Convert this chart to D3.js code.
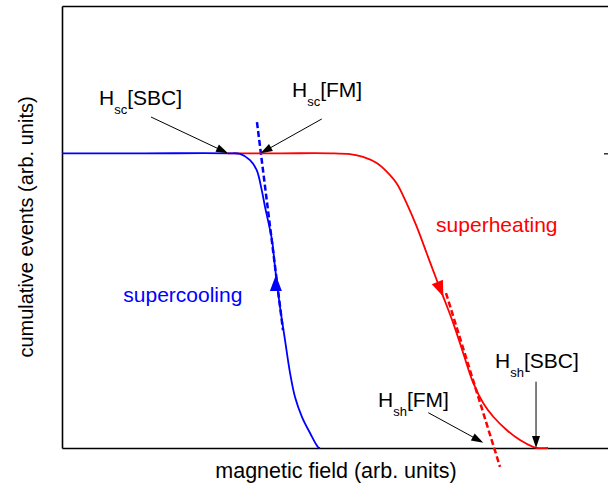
<!DOCTYPE html>
<html><head><meta charset="utf-8">
<script src="https://cdn.jsdelivr.net/npm/d3@7"></script>
<style>
html,body{margin:0;padding:0;background:#fff;}
text{font-family:Arial,"Liberation Sans",Helvetica,sans-serif;}
</style></head>
<body><svg id="chart" width="608" height="485"></svg>
<script>
// supercooling curve (field, cumulative events)
const coolX = [0, 15, 30.29, 32.48, 34.31, 35.53, 36.44, 37.04, 38.32, 38.87, 39.78, 40.69, 41.61, 42.52, 43.80, 45.26, 46.72, 47.08];
const coolY = [1.0, 1.0, 1.0, 0.998, 0.977, 0.943, 0.876, 0.819, 0.706, 0.614, 0.479, 0.367, 0.255, 0.173, 0.105, 0.051, 0.003, 0];
// superheating curve
const heatX = [30.29, 40, 48.91, 52.55, 54.93, 57.43, 59.25, 61.08, 62.90, 64.73, 66.55, 68.38, 69.58, 71.41, 73.23, 75.06, 76.88, 78.71, 81.15, 83.58, 85.95, 86.68, 88.69];
const heatY = [1.0, 1.0, 1.0, 0.997, 0.988, 0.967, 0.938, 0.898, 0.830, 0.751, 0.661, 0.570, 0.513, 0.423, 0.321, 0.220, 0.152, 0.106, 0.061, 0.027, 0.004, 0, 0];
// tangent (FM) lines
const coolTanX = [35.58, 40.33];
const coolTanY = [1.106, 0.400];
const heatTanX = [70.07, 79.93];
const heatTanY = [0.526, -0.064];
// direction arrows on curves: tip and base (data units)
const dirArrows = [
  {tip:[39.03, 0.587], base:[39.03, 0.535], color:"#0000ff"},
  {tip:[69.59, 0.513], base:[68.48, 0.564], color:"#ff0000"}
];
// annotation arrows [fromX, fromY, toX, toY]
const annArrows = [
  [16.24, 1.1233, 30.3, 1.0],
  [47.40, 1.1166, 36.22, 1.0],
  [66.84, 0.1198, 76.88, 0.018],
  [86.5, 0.225, 86.5, 0.0]
];
// labels
const hLabels = [
  {main:"H", sub:"sc", rest:"[SBC]", x:6.75, y:1.164},
  {main:"H", sub:"sc", rest:"[FM]", x:41.97, y:1.191},
  {main:"H", sub:"sh", rest:"[SBC]", x:79.01, y:0.2715},
  {main:"H", sub:"sh", rest:"[FM]", x:57.66, y:0.140}
];
const curveLabels = [
  {text:"supercooling", x:11.19, y:0.4965, color:"#0000ff"},
  {text:"superheating", x:68.27, y:0.734, color:"#ff0000"}
];
const xTitle = "magnetic field (arb. units)";
const yTitle = "cumulative events (arb. units)";

const svg = d3.select("#chart");
const x = d3.scaleLinear().domain([0, 100]).range([62, 610]);
const y = d3.scaleLinear().domain([0, 1.5]).range([448, 6]);

// axes (frame)
svg.append("g").attr("transform","translate(0,448)")
  .call(d3.axisBottom(x).tickValues([]).tickSizeOuter(0))
  .select(".domain").attr("stroke","#000").attr("stroke-width",1.6);
svg.append("g").attr("transform","translate(62,0)")
  .call(d3.axisLeft(y).tickValues([]).tickSizeOuter(0))
  .select(".domain").attr("stroke","#000").attr("stroke-width",1.6);
svg.append("g").attr("transform","translate(0,6)")
  .call(d3.axisTop(x).tickValues([]).tickSizeOuter(0))
  .select(".domain").attr("stroke","#000").attr("stroke-width",1.6);
const rAx = svg.append("g").attr("transform","translate(610,0)")
  .call(d3.axisLeft(y).tickValues([1]).tickSize(6).tickSizeOuter(0).tickFormat(""));
rAx.selectAll("line").attr("stroke","#000").attr("stroke-width",1.2);
rAx.select(".domain").attr("stroke","#000").attr("stroke-width",1.6);

const line = d3.line().x(d=>x(d[0])).y(d=>y(d[1])).curve(d3.curveCatmullRom.alpha(0.5));
const lin = d3.line().x(d=>x(d[0])).y(d=>y(d[1]));

// dashed tangents
svg.append("path").datum(d3.zip(coolTanX, coolTanY)).attr("d", lin)
  .attr("fill","none").attr("stroke","#0000ff").attr("stroke-width",2.5).attr("stroke-dasharray","6,3");
svg.append("path").datum(d3.zip(heatTanX, heatTanY)).attr("d", lin)
  .attr("fill","none").attr("stroke","#ff0000").attr("stroke-width",2.5).attr("stroke-dasharray","6,3");

// curves
svg.append("path").datum(d3.zip(heatX, heatY)).attr("d", line)
  .attr("fill","none").attr("stroke","#ff0000").attr("stroke-width",1.8);
svg.append("path").datum(d3.zip(coolX, coolY)).attr("d", line)
  .attr("fill","none").attr("stroke","#0000ff").attr("stroke-width",1.8);

// direction arrowheads
function tri(tip, base, len, halfW){
  const tx=x(tip[0]), ty=y(tip[1]), bx=x(base[0]), by=y(base[1]);
  const dx=tx-bx, dy=ty-by, L=Math.hypot(dx,dy), ux=dx/L, uy=dy/L;
  const cx=tx-ux*len, cy=ty-uy*len;
  return `M${tx},${ty}L${cx-uy*halfW},${cy+ux*halfW}L${cx+uy*halfW},${cy-ux*halfW}Z`;
}
dirArrows.forEach(a=>{
  svg.append("path").attr("d", tri(a.tip, a.base, 16, 6)).attr("fill", a.color);
});

// annotation arrows
annArrows.forEach(a=>{
  const x1=x(a[0]), y1=y(a[1]), x2=x(a[2]), y2=y(a[3]);
  const L=Math.hypot(x2-x1,y2-y1), ux=(x2-x1)/L, uy=(y2-y1)/L;
  svg.append("line").attr("x1",x1).attr("y1",y1).attr("x2",x2-ux*8).attr("y2",y2-uy*8)
    .attr("stroke","#000").attr("stroke-width",1);
  svg.append("path").attr("d", tri([a[2],a[3]],[a[0],a[1]], 12, 4)).attr("fill","#000");
});

// H labels
hLabels.forEach(l=>{
  const t = svg.append("text").attr("x", x(l.x)).attr("y", y(l.y))
    .attr("font-size", 21).attr("fill","#000");
  t.append("tspan").text(l.main);
  t.append("tspan").attr("font-size", 13).attr("dy", 9).text(l.sub);
  t.append("tspan").attr("dy", -9).text(l.rest);
});

curveLabels.forEach(l=>{
  svg.append("text").attr("x", x(l.x)).attr("y", y(l.y))
    .attr("font-size", 21).attr("fill", l.color).text(l.text);
});

// axis titles
svg.append("text").attr("x", 336).attr("y", 478).attr("text-anchor","middle")
  .attr("font-size", 21.5).attr("fill","#000").text(xTitle);
svg.append("text").attr("transform","translate(33,227) rotate(-90)").attr("text-anchor","middle")
  .attr("font-size", 20).attr("fill","#000").text(yTitle);
</script></body></html>
